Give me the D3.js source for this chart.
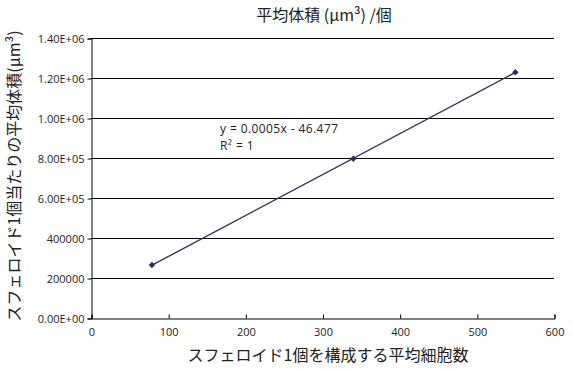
<!DOCTYPE html>
<html>
<head>
<meta charset="utf-8">
<script src="https://cdn.jsdelivr.net/npm/d3@7"></script>
<style>
	body { margin: 0; background: #fff; }
	svg text { font-family: "Noto Sans CJK JP", "Noto Sans", sans-serif; fill: #222; }
	.tick text { font-family: "Open Sans", "Noto Sans", sans-serif; font-size: 11px; }
	.grid line { stroke: #000; stroke-width: 1; }
</style>
</head>
<body>
<div class="chart"></div>
<script>
// data
var cells = [79, 340, 550];
var volumes = [265000, 796000, 1229000];
var xTicks = [0, 100, 200, 300, 400, 500, 600];
var yTicks = [0, 200000, 400000, 600000, 800000, 1000000, 1200000, 1400000];
var yTickLabels = ['0.00E+00', '200000', '400000', '6.00E+05', '8.00E+05', '1.00E+06', '1.20E+06', '1.40E+06'];
var fitText = ['y = 0.0005x - 46.477', 'R² = 1'];

var W = 573, H = 369;
var m = {left: 91, right: 19, top: 38, bottom: 51};

var svg = d3.select('.chart').append('svg').attr('width', W).attr('height', H);

var x = d3.scaleLinear().domain([0, 600]).range([m.left, W - m.right]);
var y = d3.scaleLinear().domain([0, 1400000]).range([H - m.bottom, m.top]);

// horizontal gridlines
svg.append('g').attr('class', 'grid')
	.selectAll('line').data(yTicks.slice(1)).enter().append('line')
	.attr('x1', x(0)).attr('x2', x(600))
	.attr('y1', function(d) { return Math.round(y(d)) + 0.5; })
	.attr('y2', function(d) { return Math.round(y(d)) + 0.5; });

var yAxis = svg.append('g').attr('transform', 'translate(' + (m.left + 0.5) + ',0.5)')
	.call(d3.axisLeft(y).tickValues(yTicks).tickSize(4).tickPadding(3)
		.tickFormat(function(d, i) { return yTickLabels[i]; }));
var xAxis = svg.append('g').attr('transform', 'translate(0.5,' + (H - m.bottom + 0.5) + ')')
	.call(d3.axisBottom(x).tickValues(xTicks).tickSize(-4).tickPadding(8).tickFormat(d3.format('d')));
[yAxis, xAxis].forEach(function(a) {
	a.select('.domain').attr('stroke', '#000');
	a.selectAll('.tick line').attr('stroke', '#000');
	a.selectAll('.tick text').attr('fill', '#222');
});
xAxis.selectAll('.tick text').attr('dy', '0.9em');

// least squares trendline over the data range
var n = cells.length;
var mx = d3.mean(cells), my = d3.mean(volumes);
var sxy = 0, sxx = 0;
for (var i = 0; i < n; i++) {
	sxy += (cells[i] - mx) * (volumes[i] - my);
	sxx += (cells[i] - mx) * (cells[i] - mx);
}
var slope = sxy / sxx, icpt = my - slope * mx;
var x0 = d3.min(cells), x1 = d3.max(cells);
svg.append('line')
	.attr('x1', x(x0)).attr('y1', y(icpt + slope * x0))
	.attr('x2', x(x1)).attr('y2', y(icpt + slope * x1))
	.attr('stroke', '#34355f').attr('stroke-width', 1.4);

// markers
var diamond = d3.symbol().type(d3.symbolDiamond2).size(26);
svg.selectAll('path.pt').data(cells).enter().append('path').attr('class', 'pt')
	.attr('d', diamond)
	.attr('transform', function(d, i) { return 'translate(' + x(d) + ',' + y(volumes[i]) + ')'; })
	.attr('fill', '#2e2f5c');

// equation label, one text per line
svg.selectAll('text.eq').data(fitText).enter().append('text').attr('class', 'eq')
	.attr('x', 220).attr('y', function(d, i) { return 133 + i * 17; })
	.style('font-family', '"Open Sans", "Noto Sans", sans-serif').style('font-size', '12px')
	.style('letter-spacing', '0.4px')
	.text(function(d) { return d; });

// titles
svg.append('text').attr('x', 324).attr('y', 21).attr('text-anchor', 'middle')
	.style('font-size', '16px').text('平均体積 (μm³) /個');
svg.append('text').attr('x', 328).attr('y', 361).attr('text-anchor', 'middle')
	.style('font-size', '16px').text('スフェロイド1個を構成する平均細胞数');
svg.append('text').attr('transform', 'translate(20,176) rotate(-90)').attr('text-anchor', 'middle')
	.style('font-size', '16px').text('スフェロイド1個当たりの平均体積(μm³)');
</script>
</body>
</html>
